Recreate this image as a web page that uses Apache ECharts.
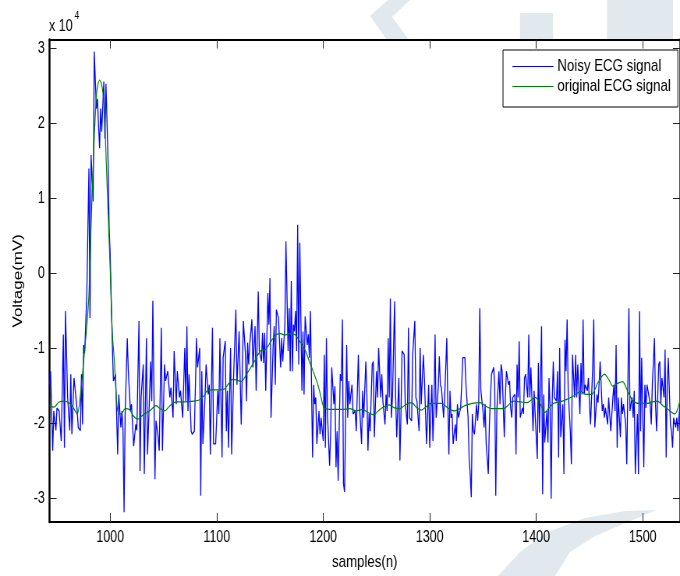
<!DOCTYPE html>
<html>
<head>
<meta charset="utf-8">
<script src="https://cdn.jsdelivr.net/npm/echarts@6/dist/echarts.min.js"></script>
<style>
html,body{margin:0;padding:0;background:#fff;}
#wrap{width:680px;height:576px;overflow:hidden;position:relative;}
#chart{width:872px;height:576px;transform:scaleX(0.779817);transform-origin:0 0;}
</style>
</head>
<body>
<div id="wrap"><div id="chart"></div></div>
<script>
// ---- data (values in units of 10^4 mV) ----
var noisyX = [943,944,946,947,949,950,952,954,956,957,958,960,962,963,964,966,967,969,970,972,973,974,975,976,978,980,981,982,984,985,987,988,989,990,991,992,994,995,996,998,999,1000,1001,1002,1003,1005,1006,1007,1008,1010,1011,1012,1013,1014,1016,1017,1019,1020,1022,1024,1025,1027,1028,1029,1031,1032,1034,1035,1036,1038,1039,1040,1042,1043,1045,1046,1048,1049,1051,1052,1054,1056,1057,1059,1060,1062,1063,1065,1066,1068,1070,1071,1072,1073,1074,1076,1077,1079,1081,1082,1084,1085,1086,1087,1089,1090,1092,1093,1094,1095,1096,1097,1099,1101,1102,1103,1105,1106,1108,1109,1110,1111,1113,1114,1116,1118,1119,1121,1123,1125,1127,1128,1129,1130,1131,1133,1134,1136,1137,1139,1140,1142,1143,1144,1145,1146,1148,1149,1150,1151,1153,1154,1155,1156,1158,1160,1161,1162,1164,1165,1167,1168,1169,1170,1171,1172,1173,1174,1175,1176,1177,1178,1180,1181,1182,1183,1185,1186,1187,1188,1190,1191,1192,1193,1194,1196,1197,1198,1200,1201,1202,1203,1204,1206,1207,1208,1210,1211,1212,1213,1214,1216,1217,1218,1219,1220,1222,1223,1224,1225,1227,1228,1230,1231,1233,1234,1236,1237,1238,1240,1241,1242,1243,1244,1246,1247,1248,1250,1251,1252,1254,1255,1256,1258,1259,1260,1261,1262,1263,1264,1265,1267,1268,1269,1271,1272,1273,1274,1276,1277,1279,1280,1281,1283,1284,1286,1287,1288,1290,1291,1292,1294,1295,1296,1297,1299,1300,1301,1302,1303,1304,1305,1306,1308,1309,1310,1311,1313,1314,1316,1317,1318,1319,1320,1321,1322,1324,1325,1326,1327,1329,1330,1331,1333,1334,1336,1337,1338,1339,1340,1341,1342,1344,1345,1346,1347,1348,1350,1351,1352,1353,1355,1356,1357,1358,1360,1361,1362,1363,1365,1366,1367,1368,1370,1371,1372,1374,1375,1376,1377,1378,1380,1381,1382,1383,1384,1385,1387,1388,1389,1390,1392,1393,1394,1395,1397,1398,1399,1401,1402,1403,1405,1406,1407,1408,1410,1411,1412,1413,1414,1415,1416,1417,1419,1420,1421,1422,1423,1425,1426,1427,1428,1429,1430,1432,1433,1434,1436,1437,1438,1439,1441,1442,1443,1444,1445,1446,1448,1449,1450,1451,1453,1454,1455,1457,1458,1459,1460,1462,1463,1464,1465,1467,1468,1469,1470,1472,1473,1474,1475,1476,1477,1479,1480,1481,1482,1484,1485,1487,1488,1490,1491,1492,1493,1495,1496,1497,1498,1499,1501,1502,1503,1504,1506,1507,1508,1509,1511,1512,1513,1515,1516,1517,1518,1520,1521,1522,1523,1524,1526,1527,1528,1529,1531,1532,1533,1535];
var noisyY = [-1.48,-1.30,-2.36,-1.83,-2.09,-1.79,-1.83,-2.23,-0.81,-2.32,-0.50,-1.65,-2.09,-1.34,-2.14,-1.39,-1.41,-1.83,-2.05,-2.09,-1.34,-2.01,-0.95,-1.06,-0.28,1.40,-0.59,1.58,0.96,2.96,2.20,2.33,1.98,1.67,2.20,1.89,2.56,1.80,2.53,1.49,0.60,0.25,-0.37,-0.95,-1.43,-1.34,-1.87,-2.41,-1.61,-2.05,-1.83,-2.09,-3.18,-1.87,-0.86,-1.30,-1.83,-1.74,-2.30,-2.01,-2.09,-0.63,-2.63,-1.65,-1.21,-2.67,-0.86,-2.41,-2.01,-1.17,-1.70,-0.36,-2.74,-1.96,-2.18,-2.36,-0.72,-2.36,-1.21,-1.43,-1.30,-1.65,-1.52,-1.92,-1.03,-1.74,-1.30,-1.65,-1.56,-1.92,-0.99,-1.70,-0.70,-1.83,-1.34,-2.10,-2.14,-2.10,-0.86,-1.25,-0.99,-2.96,-1.30,-2.27,-1.65,-1.21,-1.61,-1.48,-2.41,-1.48,-0.72,-2.27,-2.27,-1.56,-1.87,-0.86,-2.45,-1.12,-0.90,-2.10,-1.56,-2.32,-0.99,-2.41,-1.30,-0.48,-1.48,-0.77,-2.01,-0.63,-1.08,-1.70,-0.92,-1.21,-0.95,-0.61,-1.25,-0.70,-1.56,-0.24,-1.03,-1.17,-0.79,-1.19,-0.79,-1.56,-0.26,-0.68,-0.06,-1.92,-0.95,-0.70,-1.48,-0.48,-0.59,-1.25,-0.86,-1.17,-0.68,0.43,-1.03,-0.46,-1.30,-0.10,-1.30,-0.68,-0.77,-0.50,-1.03,0.65,-1.21,0.41,-1.56,-0.77,-1.61,-0.57,-0.95,-0.81,-1.12,-0.50,-2.45,-1.48,-1.74,-1.65,-2.27,-1.83,-2.14,-1.92,-2.23,-1.08,-2.32,-0.86,-1.87,-2.56,-2.10,-1.25,-1.74,-1.50,-2.58,-2.10,-2.76,-1.34,-1.43,-0.61,-2.80,-2.91,-0.95,-1.92,-1.43,-1.74,-1.48,-1.87,-1.83,-2.10,-1.08,-1.74,-2.27,-1.56,-1.92,-1.17,-1.61,-2.36,-1.87,-2.10,-1.21,-1.17,-2.18,-1.30,-1.65,-0.99,-1.65,-1.34,-1.70,-2.01,-1.61,-1.83,-0.86,-1.65,-0.33,-1.92,-1.65,-0.37,-1.65,-2.18,-1.39,-2.49,-1.87,-1.03,-1.08,-1.74,-2.01,-0.72,-1.92,-1.96,-1.08,-0.63,-1.65,-1.70,-2.10,-0.99,-1.74,-1.08,-1.39,-1.83,-2.27,-1.48,-2.32,-1.83,-1.48,-2.23,-1.74,-0.81,-1.92,-1.52,-1.10,-1.48,-1.52,-1.92,-1.65,-0.86,-1.74,-2.41,-1.56,-1.92,-1.87,-2.27,-2.01,-2.23,-1.74,-1.92,-1.79,-1.48,-1.12,-1.12,-1.48,-1.92,-2.45,-2.67,-2.98,-1.87,-2.10,-2.14,-1.74,-1.96,-1.74,-0.46,-1.56,-1.83,-2.05,-1.74,-2.27,-2.67,-2.01,-1.65,-1.34,-1.25,-1.48,-2.96,-1.83,-1.30,-1.74,-1.21,-1.30,-2.18,-1.65,-1.30,-1.48,-1.43,-1.79,-1.92,-1.65,-1.61,-2.41,-1.21,-1.65,-0.90,-1.92,-1.79,-1.87,-1.39,-1.34,-1.65,-0.81,-1.65,-1.25,-2.10,-1.56,-1.87,-2.47,-1.19,-2.12,-0.70,-2.94,-1.61,-2.25,-1.83,-2.25,-1.39,-1.79,-3.00,-1.70,-1.17,-1.65,-1.70,-1.30,-2.45,-0.99,-2.18,-1.74,-2.67,-0.88,-1.30,-0.61,-1.56,-2.10,-2.54,-1.08,-1.65,-1.08,-1.65,-1.21,-1.87,-1.19,-1.61,-0.61,-1.61,-1.48,-1.56,-1.39,-1.74,-2.01,-1.25,-0.61,-2.05,-1.61,-1.72,-1.48,-1.17,-1.83,-1.74,-1.92,-1.79,-2.01,-1.65,-1.87,-2.10,-1.65,-1.48,-1.83,-0.95,-2.32,-1.65,-2.18,-1.65,-1.87,-1.74,-2.01,-2.54,-0.46,-1.83,-1.65,-1.92,-1.56,-2.67,-1.87,-2.67,-0.50,-2.10,-1.12,-2.58,-1.48,-1.79,-1.48,-1.65,-1.74,-2.01,-1.48,-0.86,-1.74,-2.10,-1.21,-1.17,-1.74,-1.39,-1.65,-1.01,-2.45,-1.48,-1.12,-2.01,-2.10,-2.32,-1.92,-2.05,-1.92,-2.10,-1.74];

var origX = [943,947,952,957,961,965,969,972,975,978,980,983,987,990,992,994,997,1000,1002,1004,1006,1008,1011,1014,1018,1022,1026,1031,1037,1043,1047,1051,1056,1062,1071,1078,1084,1088,1091,1095,1101,1107,1111,1115,1119,1123,1128,1132,1137,1141,1146,1151,1156,1160,1164,1168,1173,1178,1183,1187,1191,1195,1198,1201,1209,1218,1225,1231,1237,1242,1247,1254,1262,1267,1272,1277,1283,1288,1292,1297,1301,1311,1317,1323,1328,1333,1340,1347,1353,1358,1369,1374,1378,1385,1391,1399,1404,1408,1412,1416,1422,1428,1435,1442,1447,1452,1458,1464,1468,1472,1477,1481,1486,1491,1497,1504,1509,1514,1519,1524,1530,1535];
var origY = [-1.76,-1.78,-1.71,-1.70,-1.72,-1.78,-1.87,-1.62,-1.17,-0.70,-0.28,1.05,2.37,2.58,2.52,2.29,1.20,0.05,-0.80,-1.18,-1.70,-1.87,-1.86,-1.80,-1.81,-1.90,-1.94,-1.88,-1.83,-1.76,-1.80,-1.83,-1.76,-1.71,-1.71,-1.70,-1.68,-1.63,-1.56,-1.55,-1.55,-1.54,-1.47,-1.41,-1.42,-1.44,-1.34,-1.25,-1.13,-1.03,-1.01,-0.90,-0.81,-0.80,-0.82,-0.80,-0.81,-0.90,-1.02,-1.17,-1.32,-1.48,-1.65,-1.79,-1.81,-1.81,-1.80,-1.83,-1.81,-1.85,-1.88,-1.80,-1.75,-1.79,-1.80,-1.75,-1.72,-1.79,-1.82,-1.77,-1.73,-1.73,-1.79,-1.83,-1.80,-1.76,-1.73,-1.72,-1.77,-1.80,-1.80,-1.75,-1.70,-1.71,-1.72,-1.65,-1.74,-1.85,-1.79,-1.73,-1.71,-1.68,-1.63,-1.57,-1.61,-1.61,-1.45,-1.34,-1.41,-1.50,-1.46,-1.44,-1.57,-1.70,-1.73,-1.73,-1.71,-1.70,-1.76,-1.81,-1.87,-1.69];

var xTicks = [1000, 1100, 1200, 1300, 1400, 1500];
var yTicks = [-3, -2, -1, 0, 1, 2, 3];
var seriesNames = ['Noisy ECG signal', 'original ECG signal'];
var seriesColors = ['#0000ff', '#008000'];

// The reference picture is horizontally squeezed; the chart is laid out on an
// 872px-wide canvas and squeezed to 680px with CSS (S = 680/872).
var S = 680 / 872;
var FONT = '"Liberation Sans", Arial, Helvetica, sans-serif';

function pairs(xs, ys) { return xs.map(function (x, i) { return [x, ys[i]]; }); }
function plain(v) { return String(v); }
function pts(list) { return list.map(function (p) { return [p[0] / S, p[1]]; }); }

var chart = echarts.init(document.getElementById('chart'), null, {renderer: 'canvas'});

var tickStyle = {color: '#222', width: 1};
var WM = '#e2e9ee'; // faint background watermark colour

function xAx(pos, main) {
  return {
    type: 'value', position: pos, min: 943, max: 1535,
    axisLine: {show: true, onZero: false, lineStyle: {color: '#000', width: 2}},
    axisTick: {show: true, inside: true, length: 9, customValues: xTicks, lineStyle: tickStyle},
    axisLabel: {show: main, customValues: xTicks, formatter: plain, color: '#000', fontSize: 16, fontFamily: FONT, margin: 8},
    splitLine: {show: false},
    name: main ? 'samples(n)' : '', nameLocation: 'middle', nameGap: 32,
    nameTextStyle: {color: '#000', fontSize: 17, fontFamily: FONT}
  };
}
function yAx(pos, main) {
  return {
    type: 'value', position: pos, min: -3.31, max: 3.12,
    axisLine: {show: true, onZero: false, lineStyle: {color: '#000', width: 2.5}},
    axisTick: {show: true, inside: true, length: 9, customValues: yTicks, lineStyle: tickStyle},
    axisLabel: {show: main, customValues: yTicks, formatter: plain, color: '#000', fontSize: 16, fontFamily: FONT, margin: 6},
    splitLine: {show: false},
    name: main ? 'Voltage(mV)' : '', nameLocation: 'middle', nameGap: 32, nameRotate: 90,
    nameTextStyle: {color: '#000', fontSize: 17, fontFamily: FONT}
  };
}

chart.setOption({
  animation: false,
  backgroundColor: '#fff',
  grid: {left: 49.5 / S, top: 39.5, right: 0, bottom: 51.5, containLabel: false},
  xAxis: [xAx('bottom', true), xAx('top', false)],
  yAxis: [yAx('left', true), yAx('right', false)],
  legend: {
    orient: 'vertical', left: 503 / S, top: 50,
    padding: [8, 9, 12, 11.5], itemGap: 3, itemWidth: 41 / S, itemHeight: 17,
    itemStyle: {opacity: 0},
    lineStyle: {width: 1.2},
    backgroundColor: '#fff', borderColor: '#000', borderWidth: 1, borderRadius: 0,
    textStyle: {color: '#000', fontSize: 17, fontFamily: FONT, lineHeight: 17},
    data: seriesNames
  },
  graphic: [
    // faint watermark shapes behind the figure
    {type: 'polygon', z: -10, silent: true, shape: {points: pts([[388,0],[410,0],[392,17],[409,40],[387,40],[370,16]])}, style: {fill: WM}},
    {type: 'rect', z: -10, silent: true, shape: {x: 520 / S, y: 13, width: 33 / S, height: 26}, style: {fill: WM}},
    {type: 'rect', z: -10, silent: true, shape: {x: 607 / S, y: 0, width: 66 / S, height: 39}, style: {fill: WM}},
    {type: 'polygon', z: -10, silent: true, shape: {points: pts([[498,576],[520,552],[548,532],[585,518],[625,511],[656,510],[628,522],[595,536],[570,552],[555,576]])}, style: {fill: WM}},
    {type: 'text', left: 49 / S, top: 19, style: {text: 'x 10', fontSize: 16, fontFamily: FONT, fill: '#000'}},
    {type: 'text', left: 74.5 / S, top: 10, style: {text: '4', fontSize: 11, fontFamily: FONT, fill: '#000'}}
  ],
  series: [
    {name: seriesNames[0], type: 'line', data: pairs(noisyX, noisyY), symbol: 'none',
     lineStyle: {color: seriesColors[0], width: 1.3}, itemStyle: {color: seriesColors[0]}, z: 2},
    {name: seriesNames[1], type: 'line', data: pairs(origX, origY), symbol: 'none', smooth: 0.3,
     lineStyle: {color: seriesColors[1], width: 1.2}, itemStyle: {color: seriesColors[1]}, z: 3}
  ]
});
</script>
</body>
</html>
